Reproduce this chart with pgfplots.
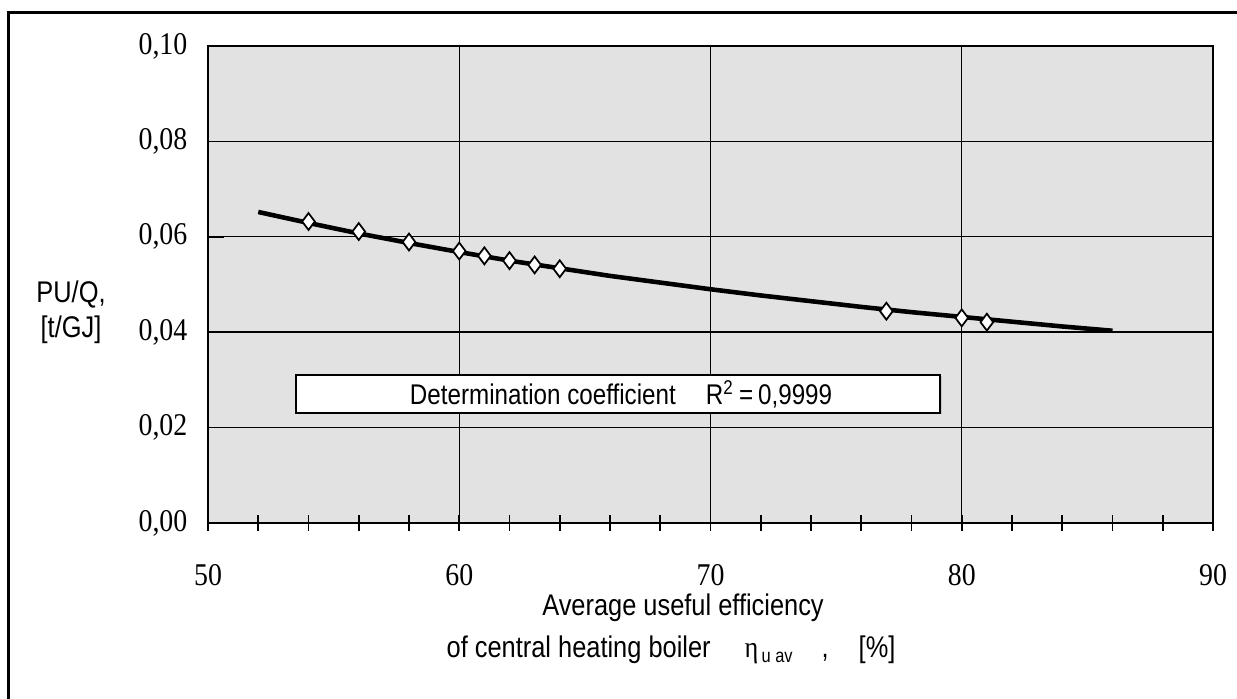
\documentclass[border=0pt]{standalone}
\usepackage{fontspec}
\setmainfont[FakeStretch=0.88]{Liberation Serif}
\newfontfamily\arial[FakeStretch=0.85]{Liberation Sans}
\usepackage{pgfplots}
\pgfplotsset{compat=1.18}
\definecolor{plotbg}{RGB}{226,226,226}

\begin{document}
\begin{tikzpicture}[x=1cm,y=1cm]
\useasboundingbox (0,0) rectangle (12.37,6.99);
% outer frame (only top and left edges are visible)
\draw[line width=0.03cm] (0.09,0) -- (0.09,6.86) -- (12.37,6.86);

\begin{axis}[
    at={(2.08cm,1.76cm)}, anchor=south west,
    scale only axis, width=10.05cm, height=4.77cm,
    xmin=50, xmax=90, ymin=0, ymax=0.1,
    xtick={50,60,70,80,90},
    ytick={0,0.02,0.04,0.06,0.08,0.1},
    minor x tick num=4,
    grid=major,
    grid style={black, line width=0.4pt},
    axis line style={black, line width=0.5pt},
    axis background/.style={fill=plotbg},
    xtick align=center, ytick align=inside,
    major tick length=0.16cm, minor tick length=0.16cm,
    tick style={black, line width=0.5pt},
    xtick pos=bottom, ytick pos=left,
    /pgf/number format/assume math mode=true,
    ticklabel style={font=\fontsize{9}{10}\selectfont},
    yticklabel style={/pgf/number format/fixed, /pgf/number format/fixed zerofill,
        /pgf/number format/precision=2, /pgf/number format/use comma},
    yticklabel style={anchor=east, inner sep=0pt, xshift=-0.2cm},
    xticklabel style={anchor=north, inner sep=0pt, yshift=-0.33cm},
    clip=false,
]

% fitted trend line
\addplot[black, line width=1.3pt] coordinates {
    (52,0.0652) (54,0.0629) (56,0.0607) (58,0.0587) (60,0.0568)
    (62,0.0550) (64,0.0534) (66,0.0518) (68,0.0504) (70,0.0490)
    (72,0.0477) (74,0.0465) (76,0.0453) (78,0.0442) (80,0.0432)
    (82,0.0422) (84,0.0412) (86,0.0403)
};

% measured points
\addplot[only marks, mark=diamond*, mark size=2.4pt,
         mark options={fill=white, draw=black, line width=0.5pt}] coordinates {
    (54,0.0632) (56,0.0611) (58,0.0589) (60,0.0570) (61,0.0560)
    (62,0.0550) (63,0.0541) (64,0.0533) (77,0.0444) (80,0.0430)
    (81,0.0421)
};

% annotation box
\fill[gray!45] (axis cs:53.58,0.02286) rectangle (axis cs:79.21,0.03083);
\draw[fill=white, line width=0.6pt] (axis cs:53.5,0.02306) rectangle (axis cs:79.13,0.03103);
\node[font=\arial\fontsize{8.1}{9}\selectfont] at (axis cs:66.44,0.02704)
    {Determination coefficient\hspace{0.3cm}R\textsuperscript{2}\,=\,0,9999};
\end{axis}

% axis titles
\node[font=\arial\fontsize{8.5}{10}\selectfont, align=center] at (0.71,3.87) {PU/Q,\\{}[t/GJ]};
\node[font=\arial\fontsize{8.5}{10}\selectfont] at (6.83,0.91) {Average useful efficiency};
\node[font=\arial\fontsize{8.5}{10}\selectfont, anchor=west, inner sep=0pt] at (4.46,0.49)
    {of central heating boiler\hspace{0.34cm}{\rmfamily η}\raisebox{-0.3ex}{\fontsize{5.5}{6}\selectfont\,u av}\hspace{0.29cm},\hspace{0.30cm}[\%]};
\end{tikzpicture}
\end{document}
